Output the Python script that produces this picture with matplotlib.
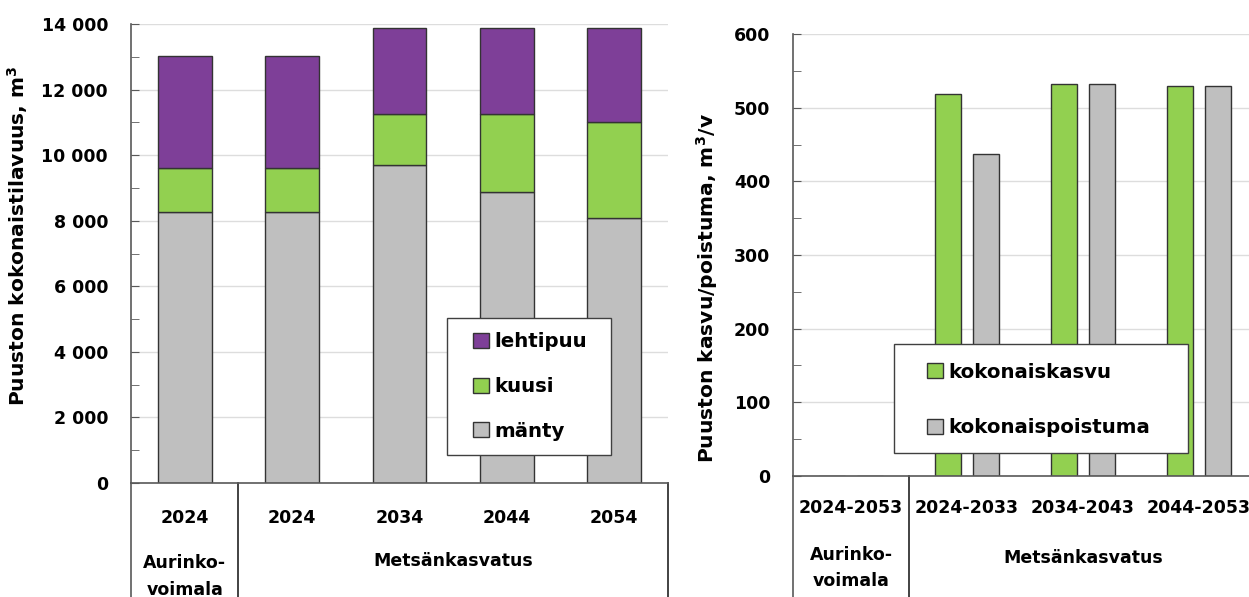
import matplotlib.pyplot as plt
from matplotlib.patches import Rectangle
from matplotlib.transforms import blended_transform_factory
import numpy as np

plt.rcParams['font.family'] = 'DejaVu Sans'
plt.rcParams['font.weight'] = 'bold'
plt.rcParams['axes.labelweight'] = 'bold'
plt.rcParams['mathtext.default'] = 'bf'

# --- left chart: volume by species
years = ['2024', '2024', '2034', '2044', '2054']
manty = [8280, 8280, 9690, 8865, 8085]
kuusi = [1315, 1315, 1580, 2393, 2928]
lehtipuu = [3420, 3420, 2614, 2626, 2870]

# --- right chart: growth / removal per year
periods = ['2024-2053', '2024-2033', '2034-2043', '2044-2053']
kasvu = [0, 519, 532, 530]
poistuma = [0, 437, 532, 530]

PURPLE = '#7E3F98'
GREEN = '#92D050'
GRAY = '#BFBFBF'
EDGE = '#333333'
AXC = '#595959'
GRID = '#DDDDDD'

W, H = 1249, 597
fig = plt.figure(figsize=(W / 100, H / 100), dpi=100)

def fx(px):
    return px / W

def fy(py):
    return 1 - py / H

ax1 = fig.add_axes([fx(131), fy(483), fx(668 - 131), (483 - 24) / H])
ax2 = fig.add_axes([fx(793), fy(475.7), fx(1257 - 793), (475.7 - 34.3) / H])

TICK_FS = 12.5
LEG_FS = 14.2
LAB_FS = 14.6


def style_axis(ax, ymax, major, minor, ncat):
    ax.set_xlim(-0.5, ncat - 0.5)
    ax.set_ylim(0, ymax)
    ax.set_yticks(np.arange(0, ymax + 1, major))
    ax.set_yticks(np.arange(0, ymax + 1, minor), minor=True)
    ax.yaxis.grid(True, color=GRID, linewidth=1)
    ax.set_axisbelow(True)
    for s in ['top', 'right']:
        ax.spines[s].set_visible(False)
    for s in ['left', 'bottom']:
        ax.spines[s].set_color(AXC)
        ax.spines[s].set_linewidth(1.2)
    ax.tick_params(axis='y', which='both', direction='in', length=6,
                   color=AXC, labelsize=TICK_FS, pad=16.5)
    ax.tick_params(axis='x', length=0, labelsize=TICK_FS)
    # category separators below the axis
    tr = blended_transform_factory(ax.transData, ax.transAxes)
    for xv in [-0.5, 0.5, ncat - 0.5]:
        ax.plot([xv, xv], [0, -0.5], transform=tr, color=AXC if xv == -0.5 else '#222222',
                linewidth=1.2, clip_on=False)
    return tr


# left chart
x1 = np.arange(len(years))
tr1 = style_axis(ax1, 14000, 2000, 1000, len(years))
ax1.yaxis.set_major_formatter(plt.FuncFormatter(lambda v, p: f'{int(v):,}'.replace(',', ' ')))
bw = 0.5
b1 = ax1.bar(x1, manty, bw, color=GRAY, edgecolor=EDGE, linewidth=1, label='mänty')
b2 = ax1.bar(x1, kuusi, bw, bottom=manty, color=GREEN, edgecolor=EDGE, linewidth=1, label='kuusi')
b3 = ax1.bar(x1, lehtipuu, bw, bottom=np.add(manty, kuusi), color=PURPLE, edgecolor=EDGE,
             linewidth=1, label='lehtipuu')
ax1.set_xticks(x1)
ax1.set_xticklabels(years)
ax1.tick_params(axis='x', pad=19)
ax1.text(0, -0.155, 'Aurinko-\nvoimala', transform=tr1, ha='center', va='top',
         fontsize=TICK_FS, linespacing=1.6)
ax1.text(2.5, -0.15, 'Metsänkasvatus', transform=tr1, ha='center', va='top', fontsize=TICK_FS)
ax1.set_ylabel('Puuston kokonaistilavuus, m$^3$', fontsize=LAB_FS, fontweight='bold')
ax1.yaxis.set_label_coords(-0.188, 0.538)

# right chart
x2 = np.arange(len(periods))
tr2 = style_axis(ax2, 600, 100, 50, len(periods))
bw2 = 0.22
off = 0.165
ax2.bar(x2 - off, kasvu, bw2, color=GREEN, edgecolor=EDGE, linewidth=1, label='kokonaiskasvu')
ax2.bar(x2 + off, poistuma, bw2, color=GRAY, edgecolor=EDGE, linewidth=1, label='kokonaispoistuma')
ax2.set_xticks(x2)
ax2.set_xticklabels(periods)
ax2.tick_params(axis='x', pad=17)
ax2.text(0, -0.16, 'Aurinko-\nvoimala', transform=tr2, ha='center', va='top',
         fontsize=TICK_FS, linespacing=1.55)
ax2.text(2.0, -0.165, 'Metsänkasvatus', transform=tr2, ha='center', va='top', fontsize=TICK_FS)
ax2.set_ylabel('Puuston kasvu/poistuma, m$^3$/v', fontsize=LAB_FS, fontweight='bold')
ax2.yaxis.set_label_coords(-0.158, 0.425)

# legends: frame drawn separately so padding can be wider than tall
ax1.add_patch(Rectangle((fx(447), fy(455)), fx(611 - 447), (455 - 318) / H,
                        transform=fig.transFigure, facecolor='white', edgecolor='#404040',
                        linewidth=1, zorder=4, clip_on=False))
fig.legend(handles=[b3, b2, b1], loc='center left', bbox_to_anchor=(fx(473), fy(386.5)),
           frameon=False, fontsize=LEG_FS, borderpad=0, borderaxespad=0,
           handlelength=0.8, handleheight=0.8, handletextpad=0.3, labelspacing=1.3)

ax2.add_patch(Rectangle((fx(894), fy(453)), fx(1188 - 894), (453 - 344) / H,
                        transform=fig.transFigure, facecolor='white', edgecolor='#404040',
                        linewidth=1, zorder=4, clip_on=False))
h, l = ax2.get_legend_handles_labels()
fig.legend(h, l, loc='center left', bbox_to_anchor=(fx(927), fy(400)),
           frameon=False, fontsize=LEG_FS, borderpad=0, borderaxespad=0,
           handlelength=0.8, handleheight=0.8, handletextpad=0.3, labelspacing=1.85)

fig.savefig('out.png', dpi=100)
